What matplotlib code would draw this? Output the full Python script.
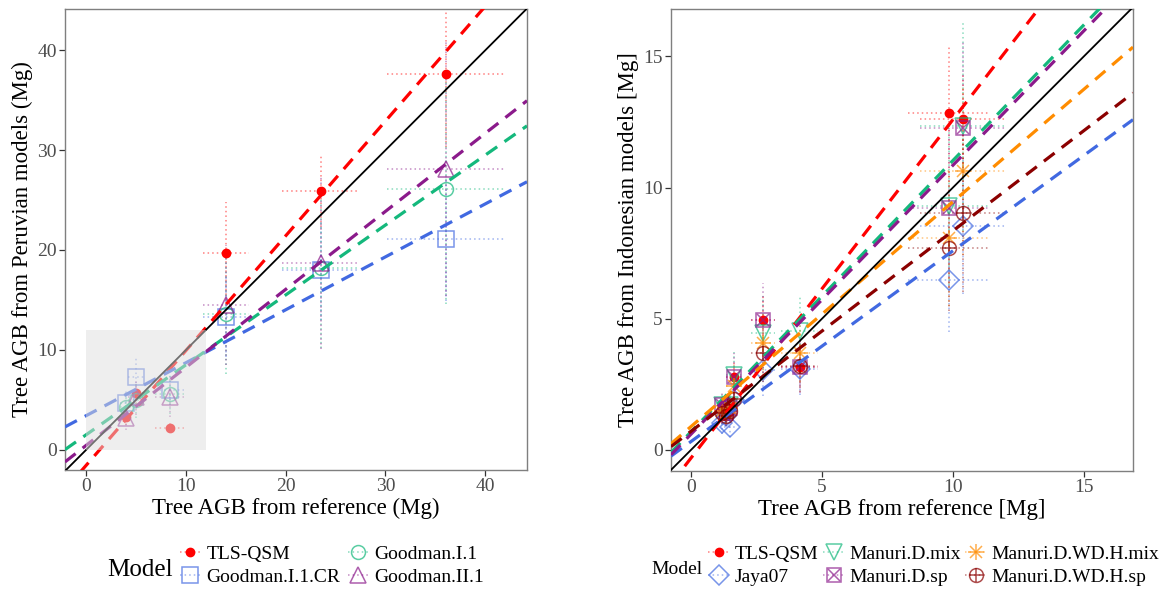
import numpy as np
import matplotlib
matplotlib.use('Agg')
import matplotlib.pyplot as plt
from matplotlib.lines import Line2D
from matplotlib.patches import Rectangle
from matplotlib.colors import to_rgba

plt.rcParams['font.family'] = ['Liberation Serif', 'DejaVu Serif']

# ---------------- Left panel data (Peruvian models) ----------------
left_models = ['TLS-QSM', 'Goodman.I.1.CR', 'Goodman.I.1', 'Goodman.II.1']
left_ref = [4.0, 5.0, 8.35, 14.0, 23.5, 36.1]
left_ref_err = [0.65, 0.8, 1.43, 2.3, 3.85, 5.9]
left_tls = [3.3, 5.7, 2.2, 19.7, 25.9, 37.6]
left_tls_err = [0.8, 1.1, 0.5, 5.1, 3.6, 7.3]
left_g1cr = [4.7, 7.3, 6.0, 13.3, 18.0, 21.1]
left_g1cr_err = [1.3, 2.0, 1.5, 4.0, 5.0, 6.2]
left_g1 = [4.3, 5.0, 5.6, 13.6, 18.2, 26.1]
left_g1_err = [1.5, 1.8, 2.0, 6.0, 8.0, 11.5]
left_g2 = [3.2, 5.3, 5.3, 14.5, 18.7, 28.1]
left_g2_err = [1.2, 1.8, 2.0, 6.0, 8.6, 12.7]
left_slope = [1.149, 0.53, 0.70, 0.781]
left_intercept = [-1.55, 3.41, 1.5, 0.44]

# ---------------- Right panel data (Indonesian models) ----------------
right_models = ['TLS-QSM', 'Jaya07', 'Manuri.D.mix', 'Manuri.D.sp',
                'Manuri.D.WD.H.mix', 'Manuri.D.WD.H.sp']
right_ref = [1.2, 1.35, 1.5, 1.65, 2.75, 4.15, 9.85, 10.4]
right_ref_err = [0.2, 0.2, 0.25, 0.3, 0.45, 0.7, 1.56, 1.65]
right_tls = [1.6, 1.3, 1.5, 2.8, 4.95, 3.15, 12.82, 12.6]
right_tls_err = [0.4, 0.35, 0.4, 0.6, 0.9, 0.7, 2.6, 1.7]
right_jaya = [1.02, 1.3, 0.88, 1.9, 3.05, 3.1, 6.49, 8.55]
right_jaya_err = [0.4, 0.4, 0.4, 0.7, 1.0, 1.0, 2.0, 2.6]
right_dmix = [1.7, 1.5, 1.7, 2.85, 4.45, 4.52, 9.3, 12.35]
right_dmix_err = [0.5, 0.5, 0.5, 0.9, 1.4, 1.4, 3.0, 4.0]
right_dsp = [1.72, 1.4, 1.6, 2.8, 4.96, 3.18, 9.22, 12.28]
right_dsp_err = [0.5, 0.5, 0.5, 0.9, 1.4, 1.0, 3.0, 3.3]
right_whmix = [1.5, 1.4, 1.6, 2.42, 4.07, 3.69, 8.08, 10.62]
right_whmix_err = [0.4, 0.4, 0.4, 0.8, 1.2, 1.1, 2.6, 3.2]
right_whsp = [1.4, 1.3, 1.5, 1.95, 3.69, 3.2, 7.7, 9.03]
right_whsp_err = [0.4, 0.4, 0.4, 0.7, 1.1, 1.0, 2.4, 3.0]
right_slope = [1.29, 0.727, 1.034, 1.025, 0.857, 0.764]
right_intercept = [-0.31, 0.32, 0.69, 0.60, 0.89, 0.71]

RED = '#FF0000'
BLUE = '#4169E1'
GREEN = '#14B87C'
PURPLE = '#8B1A8B'
ORANGE = '#FF8C00'
DRED = '#8B0000'

W, H = 1168, 595
fig = plt.figure(figsize=(W / 100, H / 100), dpi=100)

def fx(px):
    return px / W

def fy(py):
    return 1 - py / H

axL = fig.add_axes([fx(65), fy(470), fx(527) - fx(65), fy(9) - fy(470)])
axR = fig.add_axes([fx(671), fy(471), fx(1133) - fx(671), fy(9) - fy(471)])

def draw_points(ax, x, y, xerr, yerr, color, mspec, zp=3):
    x = np.asarray(x); y = np.asarray(y)
    xerr = np.asarray(xerr); yerr = np.asarray(yerr)
    ax.hlines(y, x - xerr, x + xerr, colors=[to_rgba(color, 0.5)],
              linestyles=(0, (1, 2)), lw=1.1, zorder=2)
    ax.vlines(x, y - yerr, y + yerr, colors=[to_rgba(color, 0.5)],
              linestyles=(0, (1, 2)), lw=1.1, zorder=2)
    for m, filled, ms in mspec:
        if filled:
            ax.plot(x, y, linestyle='none', marker=m, ms=ms, mfc=color,
                    mec=color, zorder=zp)
        else:
            ax.plot(x, y, linestyle='none', marker=m, ms=ms, mfc='none',
                    mec=to_rgba(color, 0.7), mew=1.1, zorder=zp)

def handle(color, mspec):
    hs = [Line2D([], [], color=to_rgba(color, 0.5), linestyle=(0, (1, 2)), lw=1.1)]
    for m, filled, ms in mspec:
        if filled:
            hs.append(Line2D([], [], linestyle='none', marker=m, ms=ms,
                             mfc=color, mec=color))
        else:
            hs.append(Line2D([], [], linestyle='none', marker=m, ms=ms,
                             mfc='none', mec=to_rgba(color, 0.7), mew=1.1))
    return tuple(hs)

def fit_line(ax, slope, intercept, color, xlim):
    xs = np.array(xlim)
    ax.plot(xs, slope * xs + intercept, color=color, lw=2.3,
            linestyle=(0, (4.2, 2.8)), zorder=4)

# ---------------- Left panel ----------------
xlimL = (-2.15, 44.2)
ylimL = (-2.05, 44.15)
left_colors = [RED, BLUE, GREEN, PURPLE]
left_specs = [[('o', True, 6)], [('s', False, 11)], [('o', False, 10)], [('^', False, 11)]]
left_vals = [(left_tls, left_tls_err), (left_g1cr, left_g1cr_err),
             (left_g1, left_g1_err), (left_g2, left_g2_err)]
for (yv, ye), c, sp in zip(left_vals, left_colors, left_specs):
    draw_points(axL, left_ref, yv, left_ref_err, ye, c, sp)
for s, b, c in zip(left_slope, left_intercept, left_colors):
    fit_line(axL, s, b, c, xlimL)
axL.plot(xlimL, xlimL, color='black', lw=1.3, zorder=5)
axL.add_patch(Rectangle((0, 0), 12, 12, facecolor='#DEDEDE', alpha=0.5,
                        edgecolor='none', zorder=6))
axL.set_xlim(xlimL)
axL.set_ylim(ylimL)
axL.set_xticks([0, 10, 20, 30, 40])
axL.set_yticks([0, 10, 20, 30, 40])
axL.set_xlabel('Tree AGB from reference (Mg)', fontsize=16.5, labelpad=2)
axL.set_ylabel('Tree AGB from Peruvian models (Mg)', fontsize=16.5, labelpad=3)

# ---------------- Right panel ----------------
xlimR = (-0.76, 16.87)
ylimR = (-0.80, 16.8)
right_colors = [RED, BLUE, GREEN, PURPLE, ORANGE, DRED]
right_specs = [[('o', True, 6)],
               [('D', False, 10)],
               [('v', False, 12)],
               [('s', False, 10), ('x', False, 8)],
               [('+', False, 11), ('x', False, 8)],
               [('o', False, 10), ('+', False, 10)]]
right_vals = [(right_tls, right_tls_err), (right_jaya, right_jaya_err),
              (right_dmix, right_dmix_err), (right_dsp, right_dsp_err),
              (right_whmix, right_whmix_err), (right_whsp, right_whsp_err)]
for (yv, ye), c, sp in zip(right_vals, right_colors, right_specs):
    draw_points(axR, right_ref, yv, right_ref_err, ye, c, sp)
for s, b, c in zip(right_slope, right_intercept, right_colors):
    fit_line(axR, s, b, c, xlimR)
axR.plot(xlimR, xlimR, color='black', lw=1.3, zorder=5)
axR.set_xlim(xlimR)
axR.set_ylim(ylimR)
axR.set_xticks([0, 5, 10, 15])
axR.set_yticks([0, 5, 10, 15])
axR.set_xlabel('Tree AGB from reference [Mg]', fontsize=16.5, labelpad=2)
axR.set_ylabel('Tree AGB from Indonesian models [Mg]', fontsize=16.5, labelpad=3)

for ax in (axL, axR):
    for sp in ax.spines.values():
        sp.set_color('#7F7F7F')
        sp.set_linewidth(1.0)
    ax.tick_params(direction='out', length=4, width=0.9, color='#333333',
                   labelcolor='#4D4D4D', labelsize=14, pad=2)

# ---------------- Legends ----------------
fig.text(fx(107), fy(570), 'Model', fontsize=18, va='center', ha='left')
hL = [handle(c, sp) for c, sp in zip(left_colors, left_specs)]
legL = fig.legend(hL, left_models, ncol=2, loc='upper left',
                  bbox_to_anchor=(fx(180), fy(545)), frameon=False, fontsize=14,
                  handlelength=1.05, handletextpad=0.3, columnspacing=0.4,
                  labelspacing=0.3, borderaxespad=0, borderpad=0)

fig.text(fx(651), fy(570), 'Model', fontsize=14, va='center', ha='left')
hR = [handle(c, sp) for c, sp in zip(right_colors, right_specs)]
legR = fig.legend(hR, right_models, ncol=3, loc='upper left',
                  bbox_to_anchor=(fx(708), fy(545)), frameon=False, fontsize=14,
                  handlelength=1.1, handletextpad=0.25, columnspacing=0.25,
                  labelspacing=0.3, borderaxespad=0, borderpad=0)

fig.savefig('out.png', dpi=100)
